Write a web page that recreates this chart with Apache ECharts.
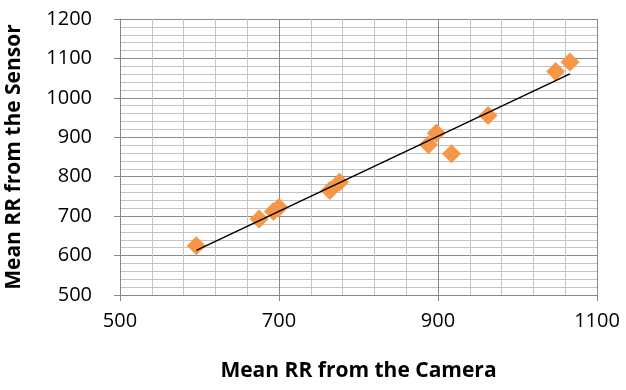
<!DOCTYPE html>
<html><head><meta charset="utf-8">
<script src="https://cdn.jsdelivr.net/npm/echarts@6/dist/echarts.min.js"></script>
<style>html,body{margin:0;padding:0;background:#fff}#c{width:626px;height:390px}</style>
</head><body><div id="c"></div>
<script>
var cameraRR = [596, 675, 693, 700, 764, 776, 888, 898, 917, 963, 1048, 1066];
var sensorRR = [625, 693, 712, 722, 765, 786, 881, 911, 858, 955, 1067, 1091];
var trendX = [596, 1066];
var trendY = [613, 1061];
var xTitle = 'Mean RR from the Camera';
var yTitle = 'Mean RR from the Sensor';

var pts = cameraRR.map(function(x, i){ return [x, sensorRR[i]]; });
var trend = trendX.map(function(x, i){ return [x, trendY[i]]; });
var font = '"Open Sans", "Liberation Sans", sans-serif';
var fmt = function(v){ return String(v); };
var chart = echarts.init(document.getElementById('c'), null, {renderer:'canvas'});
chart.setOption({
  animation: false,
  grid: {left: 120, top: 19, width: 477, height: 276, containLabel: false, outerBoundsMode: 'none'},
  xAxis: {
    type: 'value', min: 500, max: 1100, interval: 200,
    name: xTitle, nameLocation: 'middle', nameGap: 66,
    nameTextStyle: {fontFamily: font, fontWeight: 'bold', fontSize: 21, color: '#000'},
    axisLine: {show: true, lineStyle: {color: '#868686', width: 1}},
    axisTick: {show: true, length: 6, lineStyle: {color: '#868686'}},
    axisLabel: {fontFamily: font, fontSize: 20, color: '#000', margin: 16, formatter: fmt},
    splitLine: {show: true, lineStyle: {color: '#8a8a8a', width: 1}},
    minorTick: {show: false, splitNumber: 5},
    minorSplitLine: {show: true, lineStyle: {color: '#c4c4c4', width: 1}}
  },
  yAxis: {
    type: 'value', min: 500, max: 1200, interval: 100,
    name: yTitle, nameLocation: 'middle', nameGap: 95, nameRotate: 90,
    nameTextStyle: {fontFamily: font, fontWeight: 'bold', fontSize: 21, color: '#000'},
    axisLine: {show: true, lineStyle: {color: '#868686', width: 1}},
    axisTick: {show: true, length: 6, lineStyle: {color: '#868686'}},
    axisLabel: {fontFamily: font, fontSize: 20, color: '#000', margin: 28, formatter: fmt},
    splitLine: {show: true, lineStyle: {color: '#8a8a8a', width: 1}},
    minorTick: {show: false, splitNumber: 5},
    minorSplitLine: {show: true, lineStyle: {color: '#c4c4c4', width: 1}}
  },
  series: [
    {type: 'scatter', data: pts, symbol: 'diamond', symbolSize: [19, 19],
     itemStyle: {color: '#F79646', opacity: 1}, z: 2},
    {type: 'line', data: trend, symbol: 'none', lineStyle: {color: '#000', width: 1.5}, z: 3}
  ]
});
</script></body></html>
